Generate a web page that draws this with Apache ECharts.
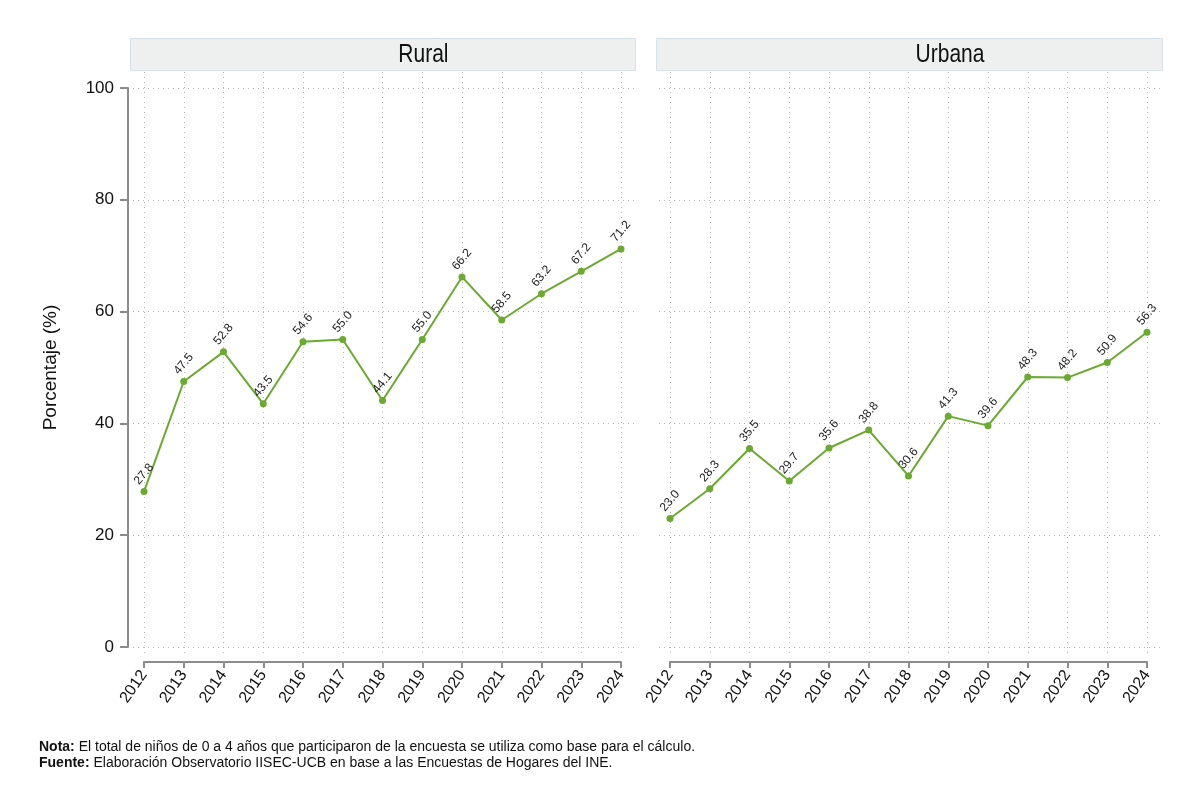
<!DOCTYPE html>
<html>
<head>
<meta charset="utf-8">
<script src="https://cdn.jsdelivr.net/npm/echarts@6/dist/echarts.min.js"></script>
<style>
  html, body { margin: 0; padding: 0; background: #fff; }
  #chart { width: 1200px; height: 801px; }
</style>
</head>
<body>
<div id="chart"></div>
<script>
// datos
let years = ['2012', '2013', '2014', '2015', '2016', '2017', '2018', '2019', '2020', '2021', '2022', '2023', '2024'];
let rural = [27.8, 47.5, 52.8, 43.5, 54.6, 55.0, 44.1, 55.0, 66.2, 58.5, 63.2, 67.2, 71.2];
let urbana = [23.0, 28.3, 35.5, 29.7, 35.6, 38.8, 30.6, 41.3, 39.6, 48.3, 48.2, 50.9, 56.3];
let panels = ['Rural', 'Urbana'];
let yTicks = [0, 20, 40, 60, 80, 100];

let FONT = "'Liberation Sans Narrow', 'Arial Narrow', 'Liberation Sans', Arial, sans-serif";
let GREEN = '#6aaa2e';

let myChart = echarts.init(document.getElementById('chart'));

// posiciones de cada panel
let panelBox = [{left: 130, right: 635, x0: 144, x1: 621}, {left: 656, right: 1162, x0: 670, x1: 1147}];
let plotTop = 88, plotBottom = 647;

let grids = [], xAxes = [], yAxes = [], series = [], graphics = [];

panelBox.forEach(function (p, i) {
    let g = grids.length;
    // grilla de fondo: lineas horizontales
    grids.push({left: p.left + 3, top: plotTop, width: p.right - p.left - 3, height: plotBottom - plotTop});
    xAxes.push({gridIndex: g, type: 'category', data: years, show: false});
    yAxes.push({
        gridIndex: g, type: 'value', min: yTicks[0], max: yTicks[yTicks.length - 1], interval: 20,
        axisLine: {show: false}, axisTick: {show: false}, axisLabel: {show: false},
        splitLine: {show: true, lineStyle: {color: '#b4b4b4', type: [1, 4], width: 1}}
    });
    // grilla de fondo: lineas verticales
    grids.push({left: p.x0, top: 72, width: p.x1 - p.x0, height: 657 - 72});
    xAxes.push({
        gridIndex: g + 1, type: 'category', data: years, boundaryGap: false,
        axisLine: {show: false}, axisTick: {show: false}, axisLabel: {show: false},
        splitLine: {show: true, lineStyle: {color: '#b4b4b4', type: [1, 4], width: 1}}
    });
    yAxes.push({gridIndex: g + 1, type: 'value', min: 0, max: 100, show: false});
    // grilla principal
    grids.push({left: p.x0, top: plotTop, width: p.x1 - p.x0, height: plotBottom - plotTop});
    xAxes.push({
        gridIndex: g + 2, type: 'category', data: years, boundaryGap: false,
        position: 'bottom', offset: 15,
        axisLine: {show: true, onZero: false, lineStyle: {color: '#8c8c8c', width: 2}},
        axisTick: {show: true, length: 6, lineStyle: {color: '#8c8c8c', width: 2}},
        axisLabel: {rotate: 55, fontSize: 16, color: '#111', fontFamily: FONT, margin: 10},
        splitLine: {show: false}
    });
    yAxes.push({
        gridIndex: g + 2, type: 'value', min: 0, max: 100, interval: 20, offset: 16,
        show: i === 0,
        name: i === 0 ? 'Porcentaje (%)' : '',
        nameLocation: 'middle', nameGap: 68,
        nameTextStyle: {fontSize: 19, color: '#111', fontFamily: FONT},
        axisLine: {show: true, onZero: false, lineStyle: {color: '#8c8c8c', width: 2}},
        axisTick: {show: true, length: 8, lineStyle: {color: '#8c8c8c', width: 2}},
        axisLabel: {fontSize: 17, color: '#111', fontFamily: FONT, margin: 14},
        splitLine: {show: false}
    });
    series.push({
        name: panels[i], type: 'line',
        xAxisIndex: g + 2, yAxisIndex: g + 2,
        data: i === 0 ? rural : urbana,
        symbol: 'circle', symbolSize: 7,
        lineStyle: {color: GREEN, width: 2},
        itemStyle: {color: GREEN},
        label: {
            show: true, position: 'top', distance: 14, rotate: 50,
            align: 'center', verticalAlign: 'middle',
            fontSize: 12, color: '#222', fontFamily: FONT,
            formatter: function (d) { return d.value.toFixed(1); }
        },
        z: 5
    });
    // encabezado del panel
    graphics.push({
        type: 'group', left: p.left, top: 38,
        children: [
            {type: 'rect', shape: {x: 0, y: 0, width: p.right - p.left, height: 32},
             style: {fill: '#eeefef', stroke: '#d6e2e8', lineWidth: 1}},
            {type: 'text', x: (p.right - p.left) / 2, y: 17, scaleX: 0.84, originX: (p.right - p.left) / 2,
             style: {text: panels[i], fontSize: 25, fill: '#111', fontFamily: FONT,
                     align: 'center', verticalAlign: 'middle'}}
        ]
    });
});

let option = {
    backgroundColor: '#fff',
    animation: false,
    grid: grids,
    xAxis: xAxes,
    yAxis: yAxes,
    series: series,
    graphic: graphics,
    title: [
        {
            left: 34, top: 734,
            text: '{b|Nota:} El total de niños de 0 a 4 años que participaron de la encuesta se utiliza como base para el cálculo.\n{b|Fuente:} Elaboración Observatorio IISEC-UCB en base a las Encuestas de Hogares del INE.',
            textStyle: {
                fontSize: 14, fontWeight: 'normal', color: '#111', fontFamily: FONT, lineHeight: 16,
                rich: {b: {fontSize: 14, fontWeight: 'bold', color: '#111', fontFamily: FONT, lineHeight: 16}}
            }
        }
    ]
};

myChart.setOption(option);
</script>
</body>
</html>
